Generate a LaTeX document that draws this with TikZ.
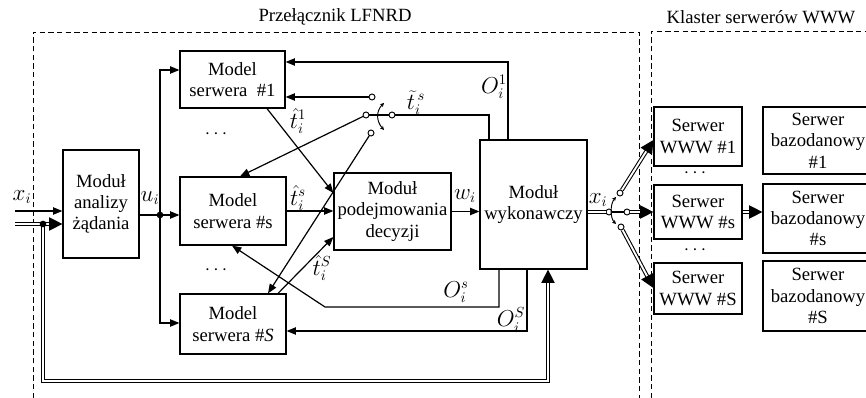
\documentclass[tikz,border=0pt]{standalone}
\usepackage{fontspec}
\setmainfont{Liberation Serif}
\usetikzlibrary{arrows.meta}
\tikzset{
  blok/.style={draw, line width=0.9pt, align=center, inner sep=1pt},
  linia/.style={line width=0.9pt},
  strz/.style={line width=0.9pt, -{Triangle[length=7pt,width=5.5pt]}},
  podw/.style={double=white, double distance=1.4pt, line width=0.8pt},
  grot/.style={-{Triangle[length=10pt,width=10pt]}},
  styk/.style={circle, draw, fill=white, line width=0.7pt, inner sep=0pt, minimum size=4.5pt},
  wezel/.style={circle, fill, inner sep=0pt, minimum size=5pt},
  ramka/.style={dash pattern=on 4pt off 2.5pt, line width=0.7pt},
  przel/.style={line width=0.7pt, {Stealth[length=3pt,width=3pt]}-{Stealth[length=3pt,width=3pt]}},
  etyk/.style={inner sep=0pt, font=\fontsize{16}{18}\selectfont}
}

\begin{document}
\begin{tikzpicture}[x=0.75pt, y=-0.75pt, font=\fontsize{14}{16}\selectfont]
\useasboundingbox (0,0) rectangle (866,398);

% ramki
\draw[ramka] (33,398) |- (639,32) -- (639,398);
\draw[ramka] (651,398) |- (866,31);
\node (tyt1) at (335,17) {Przełącznik LFNRD};
\node (tyt2) at (761,17) {Klaster serwerów WWW};

% bloki przelacznika
\node (anal) at (101,204) [blok, minimum width=57pt, minimum height=81pt] {Moduł\\analizy\\żądania};
\node (m1) at (232.5,79.5) [blok, minimum width=78.75pt, minimum height=42.75pt] {Model\\serwera\ \ \#1};
\node (ms) at (233,211) [blok, minimum width=79.5pt, minimum height=51pt] {Model\\serwera \#s};
\node (mS) at (233,324) [blok, minimum width=79.5pt, minimum height=45pt] {Model\\serwera \#\textit{S}};
\node (dec) at (392.5,211.5) [blok, minimum width=87.75pt, minimum height=57.75pt] {Moduł\\podejmowania\\decyzji};
\node (wyk) at (533.5,204.5) [blok, minimum width=80.25pt, minimum height=96.75pt] {Moduł\\wykonawczy};

% klaster
\node (w1) at (698,136.5) [blok, minimum width=66pt, minimum height=44.25pt] {Serwer\\WWW \#1};
\node (ws) at (698,212) [blok, minimum width=66pt, minimum height=40.5pt] {Serwer\\WWW \#s};
\node (wS) at (698,288.5) [blok, minimum width=66pt, minimum height=38.25pt] {Serwer\\WWW \#S};
\node (b1) at (818,140.5) [blok, minimum width=82.5pt, minimum height=50.25pt] {Serwer\\bazodanowy\\\#1};
\node (bs) at (818,218.5) [blok, minimum width=82.5pt, minimum height=51.75pt] {Serwer\\bazodanowy\\\#s};
\node (bS) at (818,296) [blok, minimum width=82.5pt, minimum height=52.5pt] {Serwer\\bazodanowy\\\#S};

% styki
\node (k1) at (372,97) [styk] {};
\node (k2) at (366,115) [styk] {};
\node (k3) at (371,133) [styk] {};
\node (kp) at (392,115) [styk] {};
\node (ks1) at (609,212) [styk] {};
\node (ks2) at (627,212) [styk] {};
\node (ks3) at (620,193) [styk] {};
\node (ks4) at (621,227) [styk] {};

\coordinate (wej1) at (15,211);
\coordinate (wej2) at (15,224);
\coordinate (rozg) at (43,224);
\coordinate (pd) at (43,381);
\coordinate (uw) at (160,215);
\coordinate (zs) at (325,307);

% wejscie
\draw[strz] (wej1) -- (anal.west |- wej1);
\draw[podw, grot] (wej2) -- (anal.west |- wej2);
\draw[podw, grot] (rozg) -- (pd) -| (wyk.south -| 548,0);
\draw[linia] (anal.east |- uw) -- (uw);
\draw[strz] (uw) -- (ms.west |- uw);
\draw[strz] (uw) |- (m1.west |- 0,70);
\draw[strz] (uw) |- (mS.west |- 0,323);

% oceny
\draw[strz] (m1.south -| 267,0) -- (dec.west |- 0,193);
\draw[strz] (ms.east) -- (dec.west |- ms.east);
\draw[strz] (mS.north -| 278,0) -- (dec.west |- 0,237);
\draw[strz] (dec.east) -- (wyk.west |- dec.east);

% sprzezenia
\draw[strz] (wyk.north -| 508,0) |- (m1.east |- 0,62);
\draw[linia] (wyk.north -| 489,0) |- (kp);
\draw[strz] (k1) -- (m1.east |- k1);
\draw[strz] (k2) -- (ms.north -| 240,0);
\draw[strz] (k3) -- (mS.north -| 268,0);
\draw[linia] (k2) -- (kp);
\draw[przel] (384,103) .. controls (376,111) and (376,121) .. (384,130);
\draw[strz] (wyk.south -| 499,0) |- (zs) -- (ms.south -| 232,0);
\draw[strz] (wyk.south -| 527,0) |- (mS.east |- 0,331);

% wyjscie
\draw[podw] (wyk.east |- ks1) -- (ks1);
\draw[linia] (ks1) -- (ks2);
\draw[przel] (616,197) .. controls (610,204) and (610,218) .. (616,224);
\draw[podw, grot] (ks3) -- (w1.west |- 0,140);
\draw[podw, grot] (ks2) -- (ws.west |- ks2);
\draw[podw, grot] (ks4) -- (wS.west |- 0,288);
\draw[podw, grot] (ws.east) -- (bs.west |- ws.east);

\node (kropka) at (rozg) [wezel] {};
\node (kropka2) at (uw) [wezel] {};

% etykiety
\node (lxi) at (22,197) [etyk] {$x_i$};
\node (lui) at (150,198) [etyk] {$u_i$};
\node (lt1) at (298,121) [etyk] {$\hat{t}_i^{1}$};
\node (lts) at (298,198) [etyk] {$\hat{t}_i^{s}$};
\node (ltS) at (322,268) [etyk] {$\hat{t}_i^{S}$};
\node (ltt) at (416,103) [etyk] {$\widetilde{t}_i^{\,s}$};
\node (lO1) at (494,87) [etyk] {$O_i^1$};
\node (lOs) at (456,292) [etyk] {$O_i^s$};
\node (lOS) at (511,320) [etyk] {$O_i^S$};
\node (lwi) at (465,196) [etyk] {$w_i$};
\node (lxo) at (598,200) [etyk] {$x_i$};

% kropki
\node (kr1) at (216,134) {$\cdots$};
\node (kr2) at (216,270) {$\cdots$};
\node (kr3) at (695,173) {$\cdots$};
\node (kr4) at (695,250) {$\cdots$};
\end{tikzpicture}
\end{document}
